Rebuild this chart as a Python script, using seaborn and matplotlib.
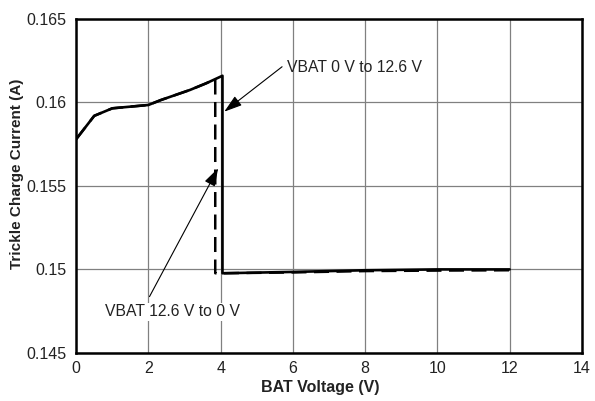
import pandas as pd
import matplotlib
matplotlib.use("Agg")
import matplotlib.pyplot as plt
import seaborn as sns

# BAT voltage sweep
up_v = [0, 0.5, 1.0, 2.0, 2.35, 3.15, 3.6, 4.05, 4.05, 6, 8, 10, 12]
up_i = [0.1578, 0.1592, 0.15965, 0.15985, 0.16015, 0.16075, 0.16115, 0.1616,
        0.14977, 0.14985, 0.14995, 0.15, 0.15]
down_v = [0, 0.5, 1.0, 2.0, 2.35, 3.15, 3.6, 3.85, 3.85, 4, 6, 8, 10, 12]
down_i = [0.1578, 0.1592, 0.15965, 0.15985, 0.16015, 0.16075, 0.16115, 0.1614,
          0.14977, 0.14977, 0.14982, 0.1499, 0.14993, 0.14995]

x_ticks = [0, 2, 4, 6, 8, 10, 12, 14]
y_ticks = [0.145, 0.15, 0.155, 0.16, 0.165]
y_labels = ["0.145", "0.15", "0.155", "0.16", "0.165"]

df = pd.concat([
    pd.DataFrame({"v": up_v, "i": up_i, "sweep": "up"}),
    pd.DataFrame({"v": down_v, "i": down_i, "sweep": "down"}),
], ignore_index=True)

sns.set_style("white")
plt.rcParams["font.family"] = ["Liberation Sans", "DejaVu Sans"]

fig = plt.figure(figsize=(5.95, 4.01), dpi=100)
ax = fig.add_axes([0.128, 0.12, 0.85, 0.8326])

sns.lineplot(data=df[df["sweep"] == "down"], x="v", y="i", sort=False,
             estimator=None, color="black", lw=1.8, dashes=(6, 3), ax=ax,
             legend=False)
sns.lineplot(data=df[df["sweep"] == "up"], x="v", y="i", sort=False,
             estimator=None, color="black", lw=1.9, ax=ax, legend=False)

ax.set_xlim(0, 14)
ax.set_ylim(0.145, 0.165)
ax.set_xticks(x_ticks)
ax.set_yticks(y_ticks)
ax.set_yticklabels(y_labels)
ax.tick_params(length=0, labelsize=11.5, colors="#222222")
ax.tick_params(axis="y", pad=7)
ax.tick_params(axis="x", pad=6)
ax.grid(True, color="#808080", lw=0.9)
for s in ax.spines.values():
    s.set_color("black")
    s.set_linewidth(1.8)

ax.set_xlabel("BAT Voltage (V)", fontsize=11.5, fontweight="bold",
              color="#222222")
ax.set_ylabel("Trickle Charge Current (A)", fontsize=11, fontweight="bold",
              color="#222222")
ax.xaxis.set_label_coords(0.483, -0.082)
ax.yaxis.set_label_coords(-0.103, 0.536)

arrow = dict(arrowstyle="-|>,head_length=1.1,head_width=0.35", lw=0.8,
             color="black", shrinkA=0, shrinkB=0)
ax.annotate("", xy=(4.10, 0.15945), xytext=(5.70, 0.16214), arrowprops=arrow)
ax.text(5.85, 0.16208, "VBAT 0 V to 12.6 V", ha="left", va="center",
        fontsize=11.3, color="#222222")
ax.annotate("", xy=(3.93, 0.15606), xytext=(2.03, 0.14837), arrowprops=arrow)
ax.text(2.66, 0.14747, "VBAT 12.6 V to 0 V", ha="center", va="center",
        fontsize=11.3, color="#222222",
        bbox=dict(facecolor="white", edgecolor="none", pad=1))

fig.savefig("out.png", dpi=100)
